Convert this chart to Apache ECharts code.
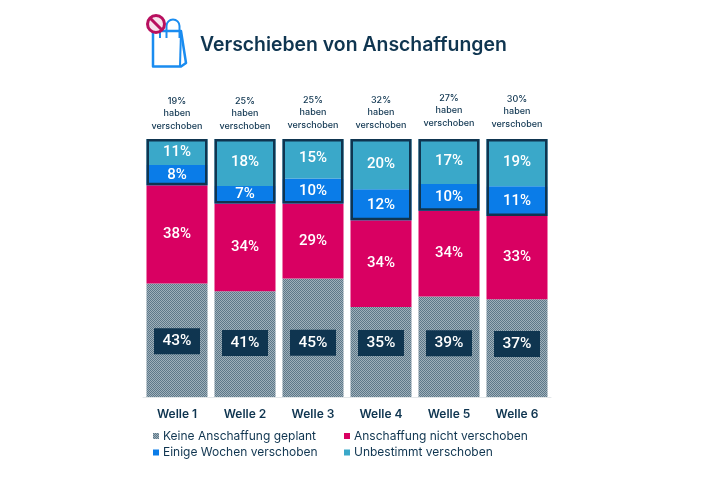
<!DOCTYPE html>
<html><head><meta charset="utf-8">
<style>html,body{margin:0;padding:0;background:#fff}#c{width:728px;height:487px}</style>
<script src="https://cdn.jsdelivr.net/npm/echarts@6/dist/echarts.min.js"></script>
</head><body><div id="c"></div>
<script>
const categories = ['Welle 1','Welle 2','Welle 3','Welle 4','Welle 5','Welle 6'];
const keine = [44,41,45.9,34.9,39,37.9];
const nicht = [38.1,34,29.1,33.6,33.2,32.3];
const wochen = [7.8,6.8,9.7,12,10.4,11.5];
const unbestimmt = [10.1,18.2,15.3,19.5,17.4,18.3];
const keineLabels = ['43%','41%','45%','35%','39%','37%'];
const nichtLabels = ['38%','34%','29%','34%','34%','33%'];
const wochenLabels = ['8%','7%','10%','12%','10%','11%'];
const unbestimmtLabels = ['11%','18%','15%','20%','17%','19%'];
const topLabels = ['19%','25%','25%','32%','27%','30%'];
const keineOffsets = [1,-1,5,-9,-3.5,-4];
const topOffsets = [0,0,-1,-1,-3,-2];

const dark = '#0f3550', pink = '#d90062', blue = '#0a7ce8', teal = '#3aa8c9', iconBlue = '#1a8cf0';
const pc = document.createElement('canvas'); pc.width = 2; pc.height = 2;
const g = pc.getContext('2d');
g.fillStyle = '#9fb0ba'; g.fillRect(0,0,2,2);
g.fillStyle = '#5d7889'; g.fillRect(0,0,1,1); g.fillRect(1,1,1,1);
const font = 'Inter', numFont = 'Roboto';
const names = ['Keine Anschaffung geplant','Anschaffung nicht verschoben','Einige Wochen verschoben','Unbestimmt verschoben'];
const seg = (name, vals, labels, color) => ({
  name, type:'bar', stack:'a', barWidth:61, data: vals, itemStyle:{color},
  label:{show:true, position:'inside', color:'#fff', fontFamily:numFont, fontSize:15, fontWeight:500,
    formatter:p=>labels[p.dataIndex]}
});
const legendBase = {orient:'vertical', icon:'rect', itemWidth:6, itemHeight:6, itemGap:4.5, itemStyle:{borderWidth:0},
  textStyle:{color:dark, fontFamily:font, fontSize:12, padding:[0,0,0,-1]}, selectedMode:false};
const option = {
  animation:false, backgroundColor:'#fff',
  title:{text:'Verschieben von Anschaffungen', left:200, top:36, padding:0,
    textStyle:{color:dark, fontFamily:font, fontSize:19.4, fontWeight:600}},
  legend:[
    {...legendBase, left:148, top:425, data:[names[0],names[2]]},
    {...legendBase, left:339, top:425, data:[names[1],names[3]]}
  ],
  grid:{left:143,right:177,top:139,bottom:90},
  xAxis:{type:'category', data:categories, axisLine:{lineStyle:{color:'#e4e8ea'}}, axisTick:{lineStyle:{color:'#e4e8ea'},length:3},
    axisLabel:{color:dark, fontFamily:font, fontSize:12, fontWeight:600, margin:11}},
  yAxis:{type:'value', min:0, max:100, show:false},
  series:[
    {...seg(names[0],keine,keineLabels,{image:pc,repeat:'repeat'}),
      label:{show:true, position:'inside', color:'#fff', backgroundColor:dark, width:46, height:26, lineHeight:26, align:'center',
        fontFamily:numFont, fontSize:15.5, fontWeight:500, formatter:p=>keineLabels[p.dataIndex]},
      data:keine.map((v,i)=>({value:v,label:{offset:[0,keineOffsets[i]]}}))},
    seg(names[1],nicht,nichtLabels,pink),
    seg(names[2],wochen,wochenLabels,blue),
    seg(names[3],unbestimmt,unbestimmtLabels,teal),
    {name:'base', type:'bar', stack:'o', barWidth:61, barGap:'-100%', silent:true, z:3,
      itemStyle:{color:'transparent'}, data:keine.map((v,i)=>v+nicht[i])},
    {name:'verschoben', type:'bar', stack:'o', barWidth:61, barGap:'-100%', silent:true, z:3,
      itemStyle:{color:'transparent', borderColor:dark, borderWidth:2.5},
      label:{show:true, position:'top', distance:6.5, color:dark, fontFamily:font, fontSize:9, fontWeight:500, lineHeight:12.5,
        formatter:p=>topLabels[p.dataIndex]+'\nhaben\nverschoben'},
      data:wochen.map((v,i)=>({value:v+unbestimmt[i],label:{offset:[0,topOffsets[i]]}}))}
  ],
  graphic:[
    {type:'polygon', shape:{points:[[153,31],[181,31],[186,63],[181,66.5],[153,66.5]]}, style:{fill:'#fff',stroke:iconBlue,lineWidth:2.5,lineJoin:'round'}},
    {type:'line', shape:{x1:181,y1:31,x2:180,y2:66}, style:{stroke:iconBlue,lineWidth:2}},
    {type:'arc', shape:{cx:173,cy:26,r:6.5,startAngle:Math.PI,endAngle:0}, style:{fill:'none',stroke:iconBlue,lineWidth:2}},
    {type:'line', shape:{x1:166.5,y1:26,x2:166.5,y2:38}, style:{stroke:iconBlue,lineWidth:2}},
    {type:'line', shape:{x1:179.5,y1:26,x2:179.5,y2:38}, style:{stroke:iconBlue,lineWidth:2}},
    {type:'line', shape:{x1:160,y1:30,x2:160,y2:38}, style:{stroke:iconBlue,lineWidth:2}},
    {type:'circle', shape:{cx:156,cy:24,r:8.5}, style:{fill:'#f7e3ec',stroke:'#b8105f',lineWidth:3}},
    {type:'line', shape:{x1:150,y1:18,x2:162,y2:30}, style:{stroke:'#b8105f',lineWidth:3}}
  ]
};
echarts.init(document.getElementById('c')).setOption(option);
</script></body></html>
